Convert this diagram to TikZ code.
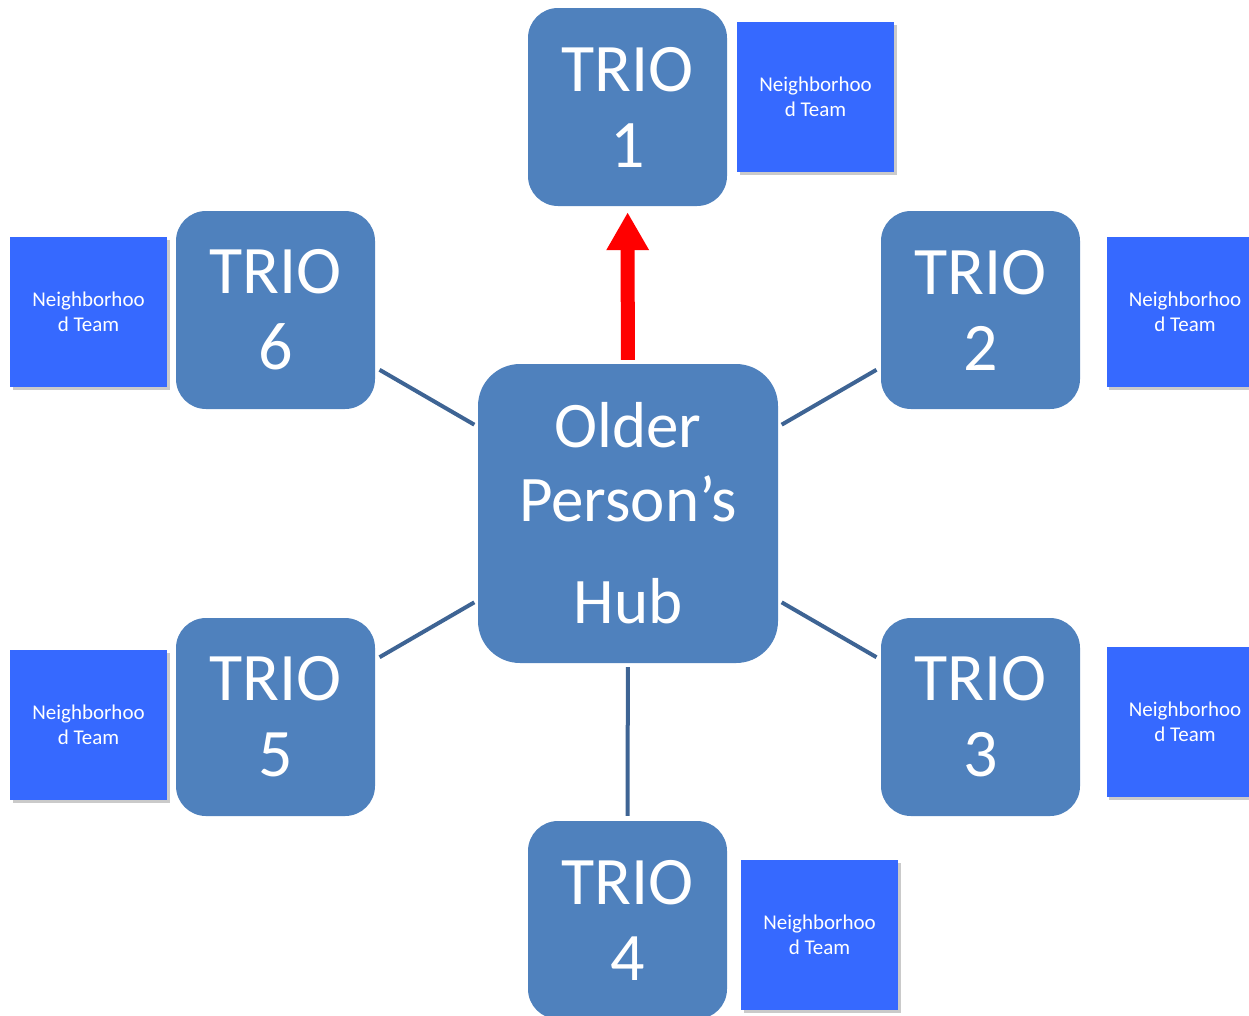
\documentclass[tikz,border=0pt]{standalone}
\usepackage{fontspec}
\setmainfont{Carlito}
\usetikzlibrary{arrows.meta,shadows}
\definecolor{trioblue}{HTML}{4F81BD}
\definecolor{teamblue}{HTML}{3669FF}
\definecolor{linkblue}{HTML}{3E6494}
\definecolor{arrowred}{HTML}{FF0000}
\tikzset{
  triobox/.style={rectangle, rounded corners=30pt, fill=trioblue, text=white,
    minimum width=199pt, minimum height=198pt, align=center, inner sep=0pt,
    font=\fontsize{68}{76}\selectfont},
  hubbox/.style={rectangle, rounded corners=42pt, fill=trioblue, text=white,
    minimum width=300pt, minimum height=299pt, align=center, inner sep=0pt,
    font=\fontsize{65}{74}\selectfont},
  teambox/.style={rectangle, fill=teamblue, text=white,
    minimum width=157pt, minimum height=150pt, align=center, inner sep=0pt,
    font=\fontsize{21}{25}\selectfont,
    drop shadow={shadow xshift=2.5pt, shadow yshift=-2.5pt, opacity=0.35, fill=black!60}},
  link/.style={draw=linkblue, line width=4pt, shorten <=4pt, shorten >=5pt},
  bigarrow/.style={draw=arrowred, line width=14pt, shorten <=4pt, shorten >=6pt,
    -{Triangle[width=40pt,length=38pt]}},
}
\begin{document}
\begin{tikzpicture}[x=1pt,y=-1pt]
\useasboundingbox (0,0) rectangle (1249,1015);
\clip (0,0) rectangle (1249,1015);
% hub
\node[hubbox] (hub) at (628,513.5) {Older\\Person’s\\[28pt]Hub};
% trios
\node[triobox] (t1) at (627.5,107) {TRIO\\1};
\node[triobox] (t2) at (980.5,310) {TRIO\\2};
\node[triobox] (t3) at (980.5,717) {TRIO\\3};
\node[triobox] (t4) at (627.5,920) {TRIO\\4};
\node[triobox] (t5) at (275.5,717) {TRIO\\5};
\node[triobox] (t6) at (275.5,310) {TRIO\\6};
% neighborhood teams
\node[teambox] (n1) at (815.5,97) {Neighborhoo\\d Team};
\node[teambox] (n2) at (1185,312) {Neighborhoo\\d Team};
\node[teambox] (n3) at (1185,722) {Neighborhoo\\d Team};
\node[teambox] (n4) at (819.5,935) {Neighborhoo\\d Team};
\node[teambox] (n5) at (88.5,725) {Neighborhoo\\d Team};
\node[teambox] (n6) at (88.5,312) {Neighborhoo\\d Team};
% connectors
\draw[link] (hub) -- (t2);
\draw[link] (hub) -- (t3);
\draw[link] (hub) -- (t4);
\draw[link] (hub) -- (t5);
\draw[link] (hub) -- (t6);
\draw[bigarrow] (hub) -- (t1);
\end{tikzpicture}
\end{document}
